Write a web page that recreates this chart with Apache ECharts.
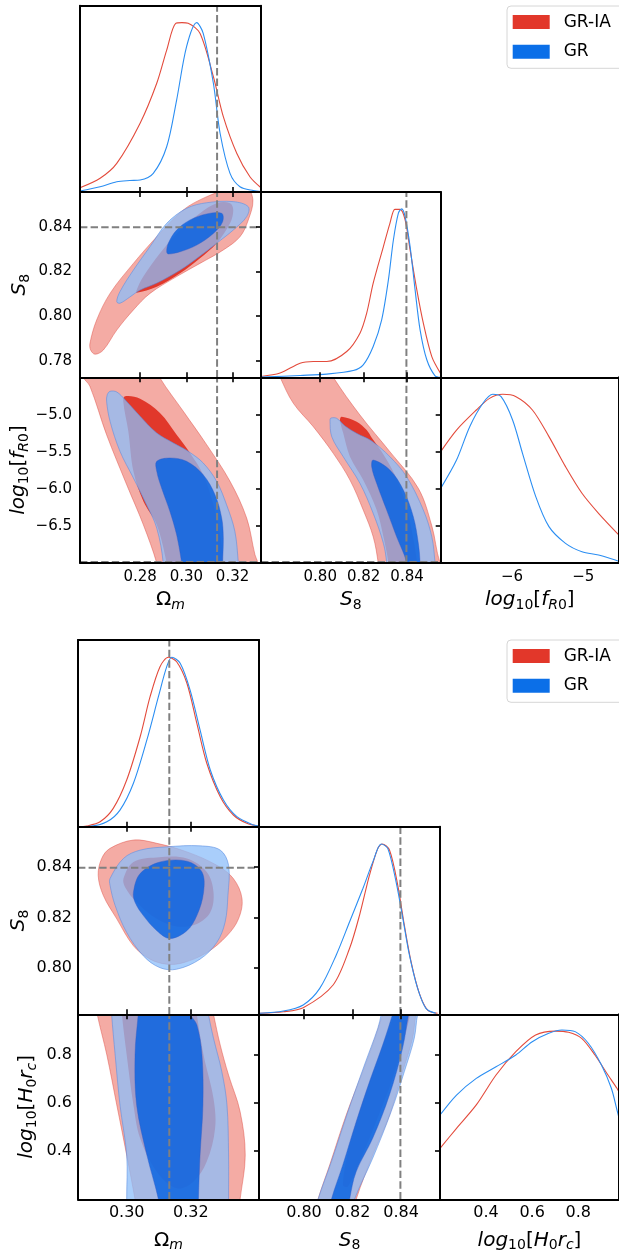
<!DOCTYPE html>
<html>
<head>
<meta charset="utf-8">
<script src="https://cdn.jsdelivr.net/npm/echarts@6/dist/echarts.min.js"></script>
<style>
  html, body { margin: 0; padding: 0; background: #fff; }
  #chart { width: 619px; height: 1255px; }
</style>
</head>
<body>
<div id="chart"></div>
<script>
// ---- top triangle: Omega_m, S8, log10 fR0 ----
var A_omRange = [0.254, 0.3323];
var A_s8Range = [0.7727, 0.8555];
var A_frRange = [-7.0, -4.489];
var A_frRangeX = [-7.0, -4.5];
var A_omTicks = [0.28, 0.30, 0.32];
var A_s8TicksX = [0.80, 0.82, 0.84];
var A_s8TicksY = [0.78, 0.80, 0.82, 0.84];
var A_frTicksX = [-6, -5];
var A_frTicksY = [-6.5, -6.0, -5.5, -5.0];

var A_om_pdf_GRIA = [[0.254,0.025],[0.2627,0.081],[0.2699,0.169],[0.2800,0.406],[0.2872,0.642],[0.2915,0.838],[0.2954,0.996],[0.2981,1.0],[0.3008,0.996],[0.3059,0.937],[0.3117,0.681],[0.3160,0.445],[0.3218,0.229],[0.3275,0.090],[0.3323,0.025]];
var A_om_pdf_GR = [[0.254,0.006],[0.2627,0.031],[0.2699,0.061],[0.2756,0.068],[0.2800,0.071],[0.2857,0.110],[0.2915,0.267],[0.2958,0.543],[0.3001,0.858],[0.3045,1.0],[0.3073,0.937],[0.3117,0.642],[0.3146,0.347],[0.3189,0.110],[0.3232,0.031],[0.3290,0.008],[0.3323,0.003]];
var A_s8_pdf_GRIA = [[0.7727,0.005],[0.7815,0.025],[0.7907,0.084],[0.7968,0.094],[0.8030,0.094],[0.8122,0.153],[0.8183,0.262],[0.8214,0.381],[0.8244,0.559],[0.8291,0.776],[0.8321,0.914],[0.8344,0.997],[0.8368,0.997],[0.8391,0.934],[0.8414,0.756],[0.8445,0.519],[0.8475,0.321],[0.8514,0.123],[0.8555,0.022]];
var A_s8_pdf_GR = [[0.7727,0.001],[0.7907,0.011],[0.8030,0.019],[0.8152,0.040],[0.8198,0.074],[0.8244,0.183],[0.8283,0.341],[0.8314,0.578],[0.8337,0.815],[0.8360,0.974],[0.8375,1.0],[0.8391,0.954],[0.8414,0.776],[0.8437,0.519],[0.8460,0.282],[0.8491,0.104],[0.8529,0.009],[0.8555,0.0]];
var A_fr_pdf_GRIA = [[-7.0,0.659],[-6.778,0.787],[-6.5,0.906],[-6.315,0.975],[-6.131,0.999],[-5.944,0.985],[-5.714,0.906],[-5.482,0.748],[-5.25,0.570],[-5.019,0.412],[-4.787,0.293],[-4.524,0.174],[-4.5,0.165]];
var A_fr_pdf_GR = [[-7.0,0.441],[-6.778,0.609],[-6.593,0.807],[-6.408,0.946],[-6.269,0.999],[-6.153,0.985],[-5.992,0.847],[-5.853,0.649],[-5.667,0.392],[-5.482,0.214],[-5.25,0.115],[-5.019,0.065],[-4.787,0.046],[-4.524,0.012],[-4.5,0.010]];

var A_om_s8_GRIA95 = [[0.2605,0.7830],[0.2586,0.7849],[0.2583,0.7879],[0.2612,0.7983],[0.2670,0.8102],[0.2771,0.8236],[0.2872,0.8355],[0.2987,0.8475],[0.3088,0.8534],[0.3174,0.8564],[0.3261,0.8573],[0.3288,0.8519],[0.3268,0.8430],[0.3232,0.8355],[0.3160,0.8296],[0.3059,0.8236],[0.2958,0.8177],[0.2843,0.8102],[0.2771,0.8028],[0.2699,0.7938],[0.2641,0.7849]];
var A_om_s8_GRIA68 = [[0.2785,0.8105],[0.2872,0.8132],[0.2973,0.8192],[0.3059,0.8259],[0.3131,0.8326],[0.3189,0.8415],[0.3203,0.8475],[0.3189,0.8505],[0.3131,0.8505],[0.3059,0.8460],[0.2973,0.8385],[0.2886,0.8281],[0.2814,0.8177],[0.2785,0.8117]];
var A_om_s8_GR95 = [[0.2699,0.8065],[0.2713,0.8110],[0.2771,0.8206],[0.2843,0.8311],[0.2915,0.8415],[0.3001,0.8482],[0.3088,0.8507],[0.3203,0.8512],[0.3268,0.8489],[0.3261,0.8445],[0.3203,0.8385],[0.3131,0.8326],[0.3059,0.8269],[0.2973,0.8206],[0.2872,0.8148],[0.2800,0.8117],[0.2756,0.8086],[0.2713,0.8058]];
var A_om_s8_GR68 = [[0.2915,0.8288],[0.2922,0.8326],[0.2958,0.8385],[0.3016,0.8430],[0.3088,0.8457],[0.3153,0.8460],[0.3157,0.8422],[0.3117,0.8370],[0.3045,0.8318],[0.2973,0.8288],[0.2922,0.8278]];

var A_om_fr_GRIA95 = [[0.2535,-4.3],[0.2554,-4.489],[0.2583,-4.612],[0.2655,-5.267],[0.2742,-5.944],[0.2814,-6.486],[0.2872,-7.005],[0.2885,-7.25],[0.3330,-7.25],[0.3310,-7.0],[0.3297,-6.893],[0.3261,-6.396],[0.3189,-5.898],[0.3088,-5.402],[0.2987,-4.950],[0.2886,-4.498],[0.2860,-4.3]];
var A_om_fr_GRIA68 = [[0.2735,-4.746],[0.2800,-4.779],[0.2886,-4.973],[0.2958,-5.267],[0.3016,-5.515],[0.3073,-5.809],[0.3117,-6.215],[0.3146,-6.622],[0.3160,-7.005],[0.3163,-7.21],[0.2922,-7.21],[0.2915,-7.005],[0.2872,-6.486],[0.2814,-6.169],[0.2771,-5.763],[0.2749,-5.221],[0.2727,-4.814]];
var A_om_fr_GR95 = [[0.2670,-4.679],[0.2699,-4.688],[0.2735,-4.793],[0.2800,-5.017],[0.2872,-5.244],[0.2944,-5.379],[0.3008,-5.492],[0.3073,-5.650],[0.3131,-5.898],[0.3174,-6.215],[0.3210,-6.576],[0.3225,-7.005],[0.3229,-7.21],[0.2893,-7.21],[0.2900,-7.005],[0.2872,-6.531],[0.2828,-6.215],[0.2771,-5.853],[0.2713,-5.492],[0.2670,-5.085],[0.2655,-4.814],[0.2658,-4.725]];
var A_om_fr_GR68 = [[0.2872,-5.627],[0.2929,-5.582],[0.3001,-5.627],[0.3073,-5.809],[0.3124,-6.080],[0.3153,-6.395],[0.3160,-6.666],[0.3157,-7.005],[0.3157,-7.21],[0.2987,-7.21],[0.2980,-7.005],[0.2958,-6.622],[0.2929,-6.305],[0.2893,-5.989],[0.2872,-5.763]];

var A_s8_fr_GRIA95 = [[0.7790,-4.3],[0.7815,-4.489],[0.7876,-4.841],[0.7968,-5.158],[0.8060,-5.519],[0.8137,-5.881],[0.8198,-6.287],[0.8244,-6.649],[0.8267,-7.001],[0.8275,-7.25],[0.8600,-7.25],[0.8552,-7.0],[0.8514,-6.5],[0.8452,-5.993],[0.8321,-5.497],[0.8183,-5.0],[0.8060,-4.489],[0.8030,-4.3]];
var A_s8_fr_GRIA68 = [[0.8099,-5.023],[0.8168,-5.091],[0.8214,-5.203],[0.8238,-5.311],[0.8284,-5.501],[0.8344,-5.813],[0.8395,-6.219],[0.8427,-6.649],[0.8446,-7.001],[0.8450,-7.21],[0.8317,-7.21],[0.8314,-7.001],[0.8291,-6.649],[0.8260,-6.287],[0.8198,-5.881],[0.8137,-5.565],[0.8106,-5.248],[0.8091,-5.067]];
var A_s8_fr_GR95 = [[0.8045,-5.067],[0.8053,-5.294],[0.8106,-5.565],[0.8183,-5.925],[0.8244,-6.332],[0.8291,-6.738],[0.8306,-7.001],[0.8308,-7.21],[0.8533,-7.21],[0.8529,-7.001],[0.8514,-6.649],[0.8475,-6.287],[0.8398,-5.836],[0.8321,-5.565],[0.8237,-5.352],[0.8169,-5.250],[0.8114,-5.149],[0.8076,-5.045],[0.8050,-5.040]];
var A_s8_fr_GR68 = [[0.8244,-5.610],[0.8321,-5.745],[0.8383,-6.016],[0.8429,-6.378],[0.8452,-6.738],[0.8460,-7.001],[0.8460,-7.21],[0.8395,-7.21],[0.8398,-7.001],[0.8352,-6.649],[0.8306,-6.287],[0.8260,-5.926],[0.8237,-5.700]];

// ---- bottom triangle: Omega_m, S8, log10 H0rc ----
var B_omRange = [0.2848, 0.3413];
var B_s8Range = [0.7815, 0.856];
var B_hrRange = [0.2, 0.97];
var B_hrRangeX = [0.2, 0.977];
var B_omTicks = [0.30, 0.32];
var B_s8Ticks = [0.80, 0.82, 0.84];
var B_hrTicks = [0.4, 0.6, 0.8];

var B_om_pdf_GRIA = [[0.2848,0.0],[0.2875,0.004],[0.2917,0.029],[0.2958,0.108],[0.3000,0.275],[0.3042,0.530],[0.3073,0.766],[0.3104,0.943],[0.3130,0.998],[0.3156,0.972],[0.3188,0.845],[0.3219,0.609],[0.3250,0.374],[0.3292,0.177],[0.3333,0.069],[0.3375,0.020],[0.3411,0.004]];
var B_om_pdf_GR = [[0.2848,0.0],[0.2885,0.002],[0.2938,0.029],[0.2979,0.098],[0.3021,0.256],[0.3063,0.511],[0.3099,0.766],[0.3125,0.943],[0.3141,0.998],[0.3167,0.963],[0.3198,0.805],[0.3229,0.570],[0.3261,0.334],[0.3302,0.157],[0.3344,0.059],[0.3396,0.010],[0.3413,0.004]];
var B_s8_pdf_GRIA = [[0.7819,0.006],[0.7915,0.015],[0.7997,0.039],[0.8120,0.172],[0.8188,0.387],[0.8229,0.582],[0.8270,0.817],[0.8304,0.973],[0.8322,0.999],[0.8352,0.963],[0.8386,0.758],[0.8413,0.524],[0.8441,0.308],[0.8475,0.123],[0.8509,0.025],[0.8550,0.006]];
var B_s8_pdf_GR = [[0.7819,0.006],[0.7915,0.019],[0.7997,0.055],[0.8065,0.152],[0.8133,0.348],[0.8188,0.543],[0.8243,0.739],[0.8284,0.895],[0.8318,0.999],[0.8345,0.973],[0.8379,0.778],[0.8407,0.563],[0.8434,0.348],[0.8468,0.152],[0.8502,0.035],[0.8543,0.006]];
var B_hr_pdf_GRIA = [[0.2,0.303],[0.2717,0.422],[0.3575,0.561],[0.4433,0.739],[0.5292,0.878],[0.6150,0.977],[0.7009,1.0],[0.7579,0.993],[0.8150,0.957],[0.8725,0.858],[0.9292,0.739],[0.9682,0.660],[0.977,0.638]];
var B_hr_pdf_GR = [[0.2,0.501],[0.2717,0.620],[0.3575,0.719],[0.4433,0.788],[0.5292,0.858],[0.6004,0.937],[0.6721,0.987],[0.7292,1.007],[0.7867,0.997],[0.8438,0.928],[0.9009,0.799],[0.9438,0.660],[0.9682,0.531],[0.977,0.483]];

var B_om_s8_GRIA95 = [[0.2911,0.8367],[0.2922,0.8434],[0.2948,0.8474],[0.3021,0.8507],[0.3094,0.8494],[0.3188,0.8460],[0.3281,0.8407],[0.3333,0.8354],[0.3360,0.8274],[0.3349,0.8194],[0.3313,0.8127],[0.3250,0.8060],[0.3177,0.8020],[0.3125,0.8014],[0.3073,0.8034],[0.3021,0.8087],[0.2969,0.8194],[0.2927,0.8287]];
var B_om_s8_GRIA68 = [[0.2990,0.8354],[0.3021,0.8420],[0.3094,0.8438],[0.3188,0.8434],[0.3250,0.8380],[0.3271,0.8300],[0.3261,0.8220],[0.3219,0.8174],[0.3156,0.8164],[0.3094,0.8194],[0.3031,0.8260],[0.2995,0.8320]];
var B_om_s8_GR95 = [[0.2948,0.8354],[0.2990,0.8434],[0.3042,0.8467],[0.3125,0.8480],[0.3229,0.8484],[0.3292,0.8467],[0.3318,0.8407],[0.3316,0.8287],[0.3307,0.8180],[0.3281,0.8100],[0.3229,0.8034],[0.3156,0.7994],[0.3104,0.8000],[0.3052,0.8047],[0.3000,0.8140],[0.2964,0.8247],[0.2948,0.8327]];
var B_om_s8_GR68 = [[0.3021,0.8300],[0.3042,0.8374],[0.3104,0.8420],[0.3188,0.8423],[0.3235,0.8380],[0.3240,0.8300],[0.3219,0.8207],[0.3188,0.8147],[0.3135,0.8116],[0.3094,0.8147],[0.3052,0.8207],[0.3026,0.8260]];

var B_om_hr_GRIA95 = [[0.2906,1.009],[0.2908,0.970],[0.2938,0.801],[0.2969,0.593],[0.3000,0.384],[0.3026,0.200],[0.3031,0.149],[0.3349,0.149],[0.3354,0.200],[0.3370,0.384],[0.3354,0.565],[0.3318,0.717],[0.3292,0.842],[0.3271,0.970],[0.3266,1.009]];
var B_om_hr_GRIA68 = [[0.2985,1.009],[0.2985,0.970],[0.3000,0.801],[0.3021,0.593],[0.3042,0.454],[0.3094,0.315],[0.3156,0.246],[0.3208,0.273],[0.3250,0.357],[0.3276,0.496],[0.3271,0.620],[0.3240,0.801],[0.3219,0.970],[0.3219,1.009]];
var B_om_hr_GR95 = [[0.2953,1.009],[0.2953,0.970],[0.2964,0.801],[0.2979,0.593],[0.3000,0.384],[0.3000,0.200],[0.3001,0.149],[0.3318,0.149],[0.3318,0.200],[0.3318,0.384],[0.3313,0.593],[0.3297,0.731],[0.3271,0.870],[0.3255,0.970],[0.3251,1.009]];
var B_om_hr_GR68 = [[0.3039,1.009],[0.3036,0.970],[0.3026,0.801],[0.3031,0.593],[0.3063,0.384],[0.3099,0.200],[0.3101,0.149],[0.3224,0.149],[0.3224,0.200],[0.3229,0.384],[0.3238,0.593],[0.3235,0.801],[0.3219,0.926],[0.3198,0.970],[0.3192,1.009]];

var B_s8_hr_GRIA95 = [[0.8049,0.149],[0.8058,0.200],[0.8106,0.343],[0.8174,0.551],[0.8242,0.731],[0.8297,0.884],[0.8324,0.970],[0.8335,1.009],[0.8475,1.009],[0.8461,0.970],[0.8447,0.870],[0.8406,0.731],[0.8352,0.551],[0.8283,0.384],[0.8215,0.200],[0.8208,0.149]];
var B_s8_hr_GRIA68 = [[0.8160,0.260],[0.8188,0.426],[0.8242,0.606],[0.8311,0.801],[0.8365,0.953],[0.8379,0.995],[0.8434,0.995],[0.8420,0.898],[0.8365,0.704],[0.8297,0.523],[0.8229,0.357],[0.8181,0.253]];
var B_s8_hr_GR95 = [[0.8049,0.149],[0.8058,0.200],[0.8113,0.357],[0.8181,0.565],[0.8249,0.759],[0.8304,0.912],[0.8318,0.970],[0.8323,1.009],[0.8483,1.009],[0.8468,0.970],[0.8454,0.870],[0.8413,0.731],[0.8359,0.565],[0.8283,0.371],[0.8208,0.200],[0.8200,0.149]];
var B_s8_hr_GR68 = [[0.8106,0.149],[0.8113,0.200],[0.8160,0.343],[0.8215,0.523],[0.8270,0.690],[0.8324,0.842],[0.8365,0.970],[0.8376,1.009],[0.8442,1.009],[0.8431,0.970],[0.8406,0.829],[0.8352,0.634],[0.8283,0.454],[0.8215,0.315],[0.8188,0.200],[0.8184,0.149]];

// fiducial (dashed) values
var fidOm = 0.3133, fidS8 = 0.8397, fidFr = -6.99;

// ---- styles ----
var FONT = 'DejaVu Sans';
var RED_LINE = '#e34b3c', BLUE_LINE = '#2b8ef2';
var RED_95 = 'rgba(228,50,35,0.41)', RED_68 = '#e1382b';
var BLUE_95 = 'rgba(140,190,250,0.75)', BLUE_68 = 'rgba(10,100,225,0.85)';
var RED_PATCH = '#e2372a', BLUE_PATCH = '#0b6fe8';

var omName = '{a|\u03A9}{si|m}';
var s8Name = '{i|S}{s|8}';
var frName = '{i|log}{s|10}{a|[}{i|f}{si|R}{s|0}{a|]}';
var hrName = '{i|log}{s|10}{a|[}{i|H}{s|0}{i|r}{si|c}{a|]}';

function rich(fs) {
  var sub = Math.round(fs * 0.7);
  return {
    a: {fontFamily: FONT, fontSize: fs, lineHeight: fs + 5, color: '#000'},
    i: {fontFamily: FONT, fontSize: fs, fontStyle: 'italic', lineHeight: fs + 5, color: '#000'},
    s: {fontFamily: FONT, fontSize: sub, lineHeight: sub, verticalAlign: 'bottom', color: '#000'},
    si: {fontFamily: FONT, fontSize: sub, fontStyle: 'italic', lineHeight: sub, verticalAlign: 'bottom', color: '#000'}
  };
}

var grids = [], xAxes = [], yAxes = [], series = [];

function fmt(dec) {
  return function (v) { return v.toFixed(dec).replace('-', '\u2212'); };
}

function axis(gi, pos, range, o, P) {
  var isX = pos === 'bottom' || pos === 'top';
  return {
    gridIndex: gi, type: 'value', position: pos, min: range[0], max: range[1], z: 10,
    axisLine: {show: true, onZero: false, lineStyle: {color: '#000', width: 2}},
    axisTick: {show: !!o.ticks, inside: true, length: 5, customValues: o.ticks || undefined,
      lineStyle: {color: '#000', width: 1.6}},
    axisLabel: {show: !!o.labels, customValues: o.labels || undefined, formatter: fmt(o.dec || 0),
      margin: isX ? P.marginX : P.marginY, color: '#000', fontFamily: FONT, fontSize: P.tickFont},
    splitLine: {show: false},
    name: o.name || '', nameLocation: 'middle', nameGap: o.gap || 0, nameRotate: isX ? 0 : 90,
    nameTextStyle: {fontFamily: FONT, fontSize: P.nameFont, rich: rich(P.nameFont)}
  };
}

function contour(pts, xi, yi, fill, stroke) {
  series.push({
    type: 'custom', xAxisIndex: xi, yAxisIndex: yi, clip: true, silent: true, animation: false,
    data: pts,
    renderItem: function (params, api) {
      if (params.dataIndex !== 0) return null;
      var points = pts.map(function (p) { return api.coord(p); });
      return {type: 'polygon', shape: {points: points, smooth: 0.35},
        style: {fill: fill, stroke: stroke, lineWidth: stroke ? 0.8 : 0}};
    }
  });
}

function curve(name, data, xi, yi, color) {
  series.push({type: 'line', name: name, xAxisIndex: xi, yAxisIndex: yi, data: data,
    smooth: 0.3, symbol: 'none', silent: true, animation: false,
    lineStyle: {color: color, width: 1.1}, itemStyle: {color: color}});
}

function dashed(data, xi, yi) {
  series.push({type: 'line', xAxisIndex: xi, yAxisIndex: yi, data: data, symbol: 'none',
    silent: true, animation: false, z: 4,
    lineStyle: {color: '#808080', width: 2, type: [7.4, 3.2]}});
}

function buildPlot(P) {
  for (var r = 0; r < 3; r++) {
    for (var c = 0; c <= r; c++) {
      var gi = grids.length;
      grids.push({left: P.colX[c], top: P.rowY[r], width: P.colW[c], height: P.rowH[r]});
      var vx = P.vars[c], vy = P.vars[r];
      var diag = r === c;
      var xr = vx.xRange, yr = diag ? [0, 1.1] : vy.yRange;
      var xi = xAxes.length, yi = yAxes.length;
      xAxes.push(axis(gi, 'bottom', xr, {ticks: r < 2 ? vx.xTicks : null,
        labels: r === 2 ? vx.xTicks : null, dec: vx.xDec,
        name: r === 2 ? vx.name : '', gap: P.nameGapX}, P));
      xAxes.push(axis(gi, 'top', xr, {ticks: diag ? null : vx.xTicks}, P));
      var leftLab = !diag && c === 0;
      yAxes.push(axis(gi, 'left', yr, {labels: leftLab ? vy.yTicks : null, dec: vy.yDec,
        name: leftLab ? vy.name : '', gap: vy.gapY}, P));
      yAxes.push(axis(gi, 'right', yr, {ticks: diag ? null : vy.yTicks}, P));

      if (diag) {
        curve('GR-IA', P.pdfs[c][0], xi, yi, RED_LINE);
        curve('GR', P.pdfs[c][1], xi, yi, BLUE_LINE);
      } else {
        var k = P.cont[r + '-' + c];
        contour(k[0], xi, yi, RED_95, 'rgba(220,70,60,0.55)');
        contour(k[1], xi, yi, RED_68, null);
        contour(k[2], xi, yi, BLUE_95, 'rgba(90,140,225,0.7)');
        contour(k[3], xi, yi, BLUE_68, 'rgba(50,90,200,0.5)');
      }
      if (P.fidX[c] != null) dashed([[P.fidX[c], yr[0]], [P.fidX[c], yr[1]]], xi, yi);
      if (!diag && P.fidY[r] != null) dashed([[xr[0], P.fidY[r]], [xr[1], P.fidY[r]]], xi, yi);
    }
  }
}

buildPlot({
  colX: [80, 261, 440.7], colW: [181, 179.7, 180.3],
  rowY: [5.7, 192, 377.3], rowH: [186.3, 185.3, 185.4],
  tickFont: 15, nameFont: 20, nameGapX: 25, marginX: 7, marginY: 8,
  vars: [
    {name: omName, xRange: A_omRange, xTicks: A_omTicks, xDec: 2},
    {name: s8Name, xRange: A_s8Range, yRange: A_s8Range, xTicks: A_s8TicksX, yTicks: A_s8TicksY, xDec: 2, yDec: 2, gapY: 48},
    {name: frName, xRange: A_frRangeX, yRange: A_frRange, xTicks: A_frTicksX, yTicks: A_frTicksY, xDec: 0, yDec: 1, gapY: 43}
  ],
  pdfs: [[A_om_pdf_GRIA, A_om_pdf_GR], [A_s8_pdf_GRIA, A_s8_pdf_GR], [A_fr_pdf_GRIA, A_fr_pdf_GR]],
  cont: {
    '1-0': [A_om_s8_GRIA95, A_om_s8_GRIA68, A_om_s8_GR95, A_om_s8_GR68],
    '2-0': [A_om_fr_GRIA95, A_om_fr_GRIA68, A_om_fr_GR95, A_om_fr_GR68],
    '2-1': [A_s8_fr_GRIA95, A_s8_fr_GRIA68, A_s8_fr_GR95, A_s8_fr_GR68]
  },
  fidX: [fidOm, fidS8, null], fidY: [null, fidS8, fidFr]
});

buildPlot({
  colX: [78, 259, 440], colW: [181, 181, 181],
  rowY: [640, 826.7, 1014.3], rowH: [186.7, 187.6, 185],
  tickFont: 16, nameFont: 20, nameGapX: 28.5, marginX: 5.5, marginY: 6,
  vars: [
    {name: omName, xRange: B_omRange, xTicks: B_omTicks, xDec: 2},
    {name: s8Name, xRange: B_s8Range, yRange: B_s8Range, xTicks: B_s8Ticks, yTicks: B_s8Ticks, xDec: 2, yDec: 2, gapY: 47},
    {name: hrName, xRange: B_hrRangeX, yRange: B_hrRange, xTicks: B_hrTicks, yTicks: B_hrTicks, xDec: 1, yDec: 1, gapY: 39}
  ],
  pdfs: [[B_om_pdf_GRIA, B_om_pdf_GR], [B_s8_pdf_GRIA, B_s8_pdf_GR], [B_hr_pdf_GRIA, B_hr_pdf_GR]],
  cont: {
    '1-0': [B_om_s8_GRIA95, B_om_s8_GRIA68, B_om_s8_GR95, B_om_s8_GR68],
    '2-0': [B_om_hr_GRIA95, B_om_hr_GRIA68, B_om_hr_GR95, B_om_hr_GR68],
    '2-1': [B_s8_hr_GRIA95, B_s8_hr_GRIA68, B_s8_hr_GR95, B_s8_hr_GR68]
  },
  fidX: [fidOm, fidS8, null], fidY: [null, fidS8, null]
});

function legendBox(top) {
  return {
    top: top, left: 507, orient: 'vertical', selectedMode: false,
    itemWidth: 37, itemHeight: 14, itemGap: 12.7, padding: [7.6, 24, 8, 5.7],
    backgroundColor: '#fff', borderColor: '#d6d6d6', borderWidth: 1, borderRadius: 4,
    textStyle: {fontFamily: FONT, fontSize: 17, color: '#000', lineHeight: 14, padding: [0, 0, 0, 9]},
    data: [
      {name: 'GR-IA', icon: 'rect', itemStyle: {color: RED_PATCH}},
      {name: 'GR', icon: 'rect', itemStyle: {color: BLUE_PATCH}}
    ]
  };
}

var chart = echarts.init(document.getElementById('chart'));
chart.setOption({
  backgroundColor: '#fff',
  animation: false,
  legend: [legendBox(6), legendBox(640)],
  grid: grids,
  xAxis: xAxes,
  yAxis: yAxes,
  series: series
});
</script>
</body>
</html>
